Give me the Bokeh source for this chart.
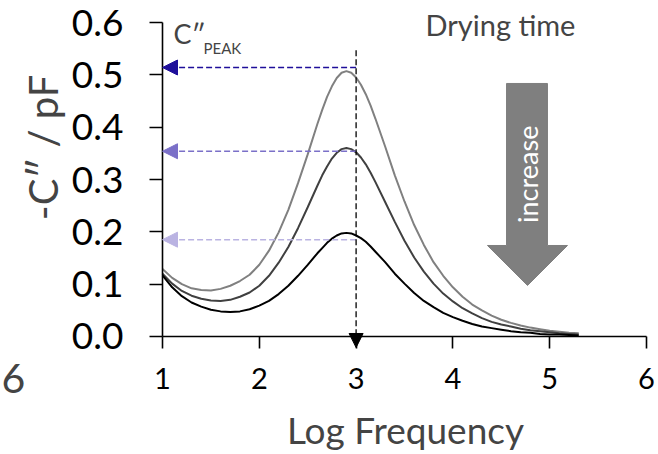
from math import pi
from bokeh.plotting import figure
from bokeh.models import Arrow, NormalHead, Label, Range1d, NumeralTickFormatter
from bokeh.embed import file_html
from bokeh.resources import INLINE

# ---- data ----
log_freq = [1.0, 1.1, 1.2, 1.3, 1.4, 1.5, 1.6, 1.7, 1.8, 1.9,
            2.0, 2.1, 2.2, 2.3, 2.4, 2.5, 2.6, 2.65, 2.7, 2.75, 2.8, 2.85, 2.9, 2.95,
            3.0, 3.05, 3.1, 3.15, 3.2, 3.3, 3.4, 3.5, 3.6, 3.7, 3.8, 3.9,
            4.0, 4.1, 4.2, 4.3, 4.4, 4.5, 4.6, 4.7, 4.8, 4.9,
            5.0, 5.1, 5.2, 5.3]
c_gray = [0.129, 0.112, 0.100, 0.092, 0.089, 0.088, 0.091, 0.097, 0.106, 0.118,
          0.137, 0.164, 0.199, 0.242, 0.293, 0.348, 0.406, 0.433, 0.458, 0.478, 0.494, 0.504, 0.507, 0.504,
          0.495, 0.481, 0.463, 0.441, 0.416, 0.363, 0.308, 0.258, 0.213, 0.175, 0.142, 0.116,
          0.094, 0.076, 0.061, 0.050, 0.040, 0.032, 0.026, 0.021, 0.017, 0.014,
          0.011, 0.009, 0.007, 0.006]
c_dark = [0.120, 0.101, 0.087, 0.078, 0.072, 0.069, 0.068, 0.070, 0.076, 0.084,
          0.097, 0.116, 0.141, 0.171, 0.207, 0.247, 0.288, 0.308, 0.325, 0.340, 0.351, 0.358, 0.360, 0.358,
          0.352, 0.342, 0.329, 0.313, 0.295, 0.257, 0.219, 0.183, 0.151, 0.124, 0.101, 0.082,
          0.067, 0.054, 0.044, 0.035, 0.028, 0.023, 0.019, 0.015, 0.012, 0.010,
          0.008, 0.006, 0.005, 0.004]
c_black = [0.117, 0.094, 0.077, 0.065, 0.057, 0.051, 0.048, 0.047, 0.048, 0.052,
           0.059, 0.068, 0.081, 0.097, 0.116, 0.137, 0.159, 0.169, 0.179, 0.187, 0.193, 0.197, 0.198, 0.197,
           0.193, 0.188, 0.181, 0.172, 0.162, 0.142, 0.120, 0.101, 0.083, 0.068, 0.056, 0.045,
           0.037, 0.030, 0.024, 0.019, 0.016, 0.013, 0.010, 0.008, 0.007, 0.005,
           0.004, 0.004, 0.003, 0.002]
curve_colors = ["#808080", "#404040", "#000000"]

peak_x = 3.0
peak_levels = [0.514, 0.354, 0.185]
peak_colors = ["#1f0f9a", "#7b70c8", "#bab3e2"]

x_ticks = [1, 2, 3, 4, 5, 6]
y_ticks = [0.0, 0.1, 0.2, 0.3, 0.4, 0.5, 0.6]

FONT = "Lato"

# frame covers the whole canvas; axes are pinned at x=1 and y=0
p = figure(width=658, height=454, output_backend="svg", toolbar_location=None,
           x_range=Range1d(-0.6736, 6.1240), y_range=Range1d(-0.22548, 0.64204),
           min_border_left=0, min_border_right=0, min_border_top=0,
           min_border_bottom=0)
p.outline_line_color = None
p.xgrid.grid_line_color = None
p.ygrid.grid_line_color = None
p.background_fill_color = "white"
p.border_fill_color = "white"

p.xaxis.fixed_location = 0
p.yaxis.fixed_location = 1
p.xaxis.bounds = (1, 6)
p.yaxis.bounds = (0, 0.6)

for ax in (p.xaxis[0], p.yaxis[0]):
    ax.axis_line_width = 1.6
    ax.axis_line_color = "black"
    ax.major_tick_line_width = 1.6
    ax.major_tick_line_color = "black"
    ax.major_tick_in = 0
    ax.minor_tick_line_color = None
    ax.major_label_text_font = FONT
    ax.major_label_text_color = "black"

p.xaxis.ticker = x_ticks
p.yaxis.ticker = y_ticks
p.yaxis.formatter = NumeralTickFormatter(format="0.0")
p.xaxis.major_tick_out = 12
p.yaxis.major_tick_out = 13
p.yaxis.major_label_text_font_size = "37px"
p.xaxis.major_label_text_font_size = "29px"
p.yaxis.major_label_standoff = 26
p.xaxis.major_label_standoff = 20

# curves
for ys, col in zip([c_gray, c_dark, c_black], curve_colors):
    p.line(log_freq, ys, line_color=col, line_width=2)

# big gray arrow
p.patch([4.554, 4.977, 4.977, 5.184, 4.771, 4.357, 4.554, 4.554],
        [0.4835, 0.4835, 0.1739, 0.1739, 0.0975, 0.1739, 0.1739, 0.4835],
        fill_color="#7f7f7f", line_color="#7f7f7f")
p.add_layout(Label(x=4.771, y=0.31, text="increase", angle=pi / 2,
                   text_align="center", text_baseline="middle",
                   text_color="white", text_font=FONT, text_font_size="27px"))

# dashed peak arrows
for lvl, col in zip(peak_levels, peak_colors):
    p.add_layout(Arrow(x_start=peak_x, y_start=lvl, x_end=1, y_end=lvl,
                       line_color=col, line_width=1.4, line_dash="6 3",
                       end=NormalHead(size=15, fill_color=col, line_color=col)))
p.add_layout(Arrow(x_start=peak_x, y_start=0.547, x_end=peak_x, y_end=-0.021,
                   line_color="black", line_width=1.3, line_dash="6 3",
                   end=NormalHead(size=14, fill_color="black", line_color="black")))

# texts
p.add_layout(Label(x=-0.2397, y=0.3612, text="-C″ / pF", angle=pi / 2,
                   text_align="center", text_baseline="middle",
                   text_font=FONT, text_font_size="40px"))
p.add_layout(Label(x=3.510, y=-0.1770, text="Log Frequency", text_align="center",
                   text_baseline="alphabetic", text_font=FONT, text_font_size="37px"))
p.add_layout(Label(x=3.7169, y=0.5962, text="Drying time", text_baseline="alphabetic",
                   text_font=FONT, text_font_size="29px"))
p.add_layout(Label(x=1.1136, y=0.5790, text="C″", text_baseline="alphabetic",
                   text_font=FONT, text_font_size="27px"))
p.add_layout(Label(x=1.4235, y=0.5504, text="PEAK", text_baseline="alphabetic",
                   text_font=FONT, text_font_size="15px"))
p.add_layout(Label(x=-0.6636, y=-0.0802, text="6", text_align="left",
                   text_baseline="alphabetic", text_font=FONT, text_font_size="41px"))

open("out.html", "w").write(file_html(p, INLINE))
